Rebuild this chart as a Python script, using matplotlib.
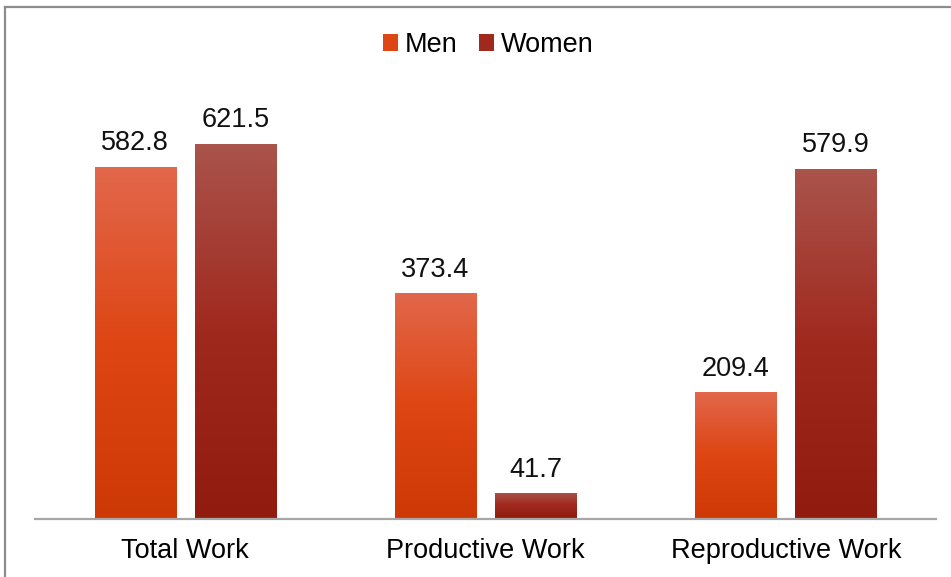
import matplotlib

matplotlib.use("Agg")
import matplotlib.pyplot as plt
import numpy as np
from matplotlib.colors import LinearSegmentedColormap
from matplotlib.lines import Line2D
from matplotlib.patches import Patch

categories = ["Total Work", "Productive Work", "Reproductive Work"]
series_names = ["Men", "Women"]
men = [582.8, 373.4, 209.4]
women = [621.5, 41.7, 579.9]

# top -> middle -> bottom shading for each series
men_shades = ["#e2674c", "#de4613", "#cd3905"]
women_shades = ["#aa544c", "#a0291e", "#921b10"]

plt.rcParams["font.family"] = ["Liberation Sans", "DejaVu Sans"]
FS = 19.5

W, H = 951, 577
fig = plt.figure(figsize=(W / 100, H / 100), dpi=100)
ax = fig.add_axes([35 / W, (H - 518.5) / H, 901 / W, 422 / H])

x = np.arange(len(categories))
width = 0.27
offset = 1 / 3


def gradient_bars(ax, xs, values, shades):
    cmap = LinearSegmentedColormap.from_list("shade", shades[::-1])
    grad = np.linspace(0, 1, 256).reshape(-1, 1)
    bars = ax.bar(xs, values, width, color="none", edgecolor="none")
    for bar in bars:
        x0, y0 = bar.get_x(), bar.get_y()
        img = ax.imshow(
            grad,
            cmap=cmap,
            origin="lower",
            aspect="auto",
            extent=(x0, x0 + bar.get_width(), y0, y0 + bar.get_height()),
            zorder=2,
        )
        img.set_clip_path(bar)
    for xv, v in zip(xs, values):
        ax.annotate(
            f"{v:.1f}",
            xy=(xv, v),
            xytext=(0, 12),
            textcoords="offset points",
            ha="center",
            va="baseline",
            fontsize=FS,
            color="#111111",
        )
    return bars


gradient_bars(ax, x - offset / 2, men, men_shades)
gradient_bars(ax, x + offset / 2, women, women_shades)

ax.set_xlim(-0.5, 2.5)
ax.set_ylim(0, 700)
ax.set_xticks(x)
ax.set_xticklabels(categories, fontsize=FS)
ax.tick_params(axis="x", length=0, pad=14)
ax.set_yticks([])
for side in ["top", "right", "left"]:
    ax.spines[side].set_visible(False)
ax.spines["bottom"].set_color("#a6a6a6")
ax.spines["bottom"].set_linewidth(1.6)

handles = [
    Patch(facecolor=men_shades[1], edgecolor="none"),
    Patch(facecolor=women_shades[1], edgecolor="none"),
]
fig.legend(
    handles,
    series_names,
    loc="center",
    bbox_to_anchor=(488 / W, 1 - 45 / H),
    ncol=2,
    frameon=False,
    fontsize=FS,
    handlelength=0.55,
    handleheight=0.55,
    handletextpad=0.25,
    columnspacing=0.8,
)

# outer chart border (left and top edges)
fig.add_artist(Line2D([4.5 / W, 4.5 / W], [0, 1 - 6.5 / H], color="#8c8c8c", lw=1.6))
fig.add_artist(Line2D([4.5 / W, 1], [1 - 6.5 / H, 1 - 6.5 / H], color="#8c8c8c", lw=1.6))

fig.savefig("out.png", dpi=100)
